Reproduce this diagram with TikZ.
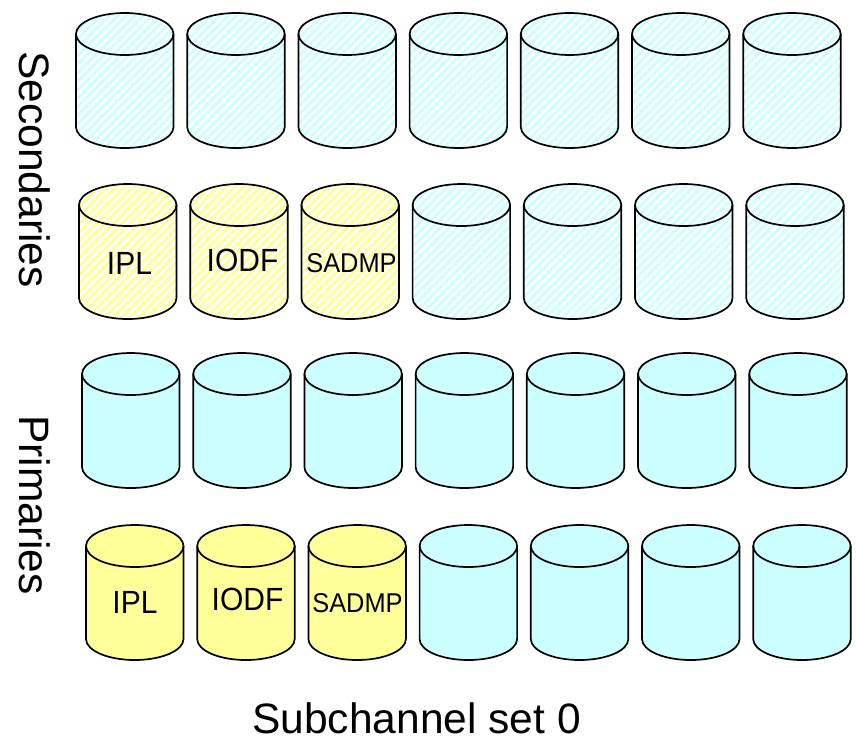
\documentclass[tikz,border=0pt]{standalone}
\usepackage{fontspec}
\setmainfont{Liberation Sans}
\usetikzlibrary{patterns.meta}

\definecolor{cyanfill}{RGB}{204,255,255}
\definecolor{yellowfill}{RGB}{255,255,153}

\tikzset{
  x=1pt, y=1pt,
  drumline/.style={draw=black, line width=1.7pt, line join=round},
  % a disk drum: origin at the top of the upper ellipse
  pics/drum/.style={code={
    \path[pic actions] (-48.75,-21) -- (-48.75,-114)
      arc[start angle=180, end angle=360, x radius=48.75, y radius=21]
      -- (48.75,-21)
      arc[start angle=0, end angle=180, x radius=48.75, y radius=21] -- cycle;
    \draw[drumline] (-48.75,-21)
      arc[start angle=180, end angle=360, x radius=48.75, y radius=21];
  }},
  solidcyan/.style={fill=cyanfill, drumline},
  solidyellow/.style={fill=yellowfill, drumline},
  hatchcyan/.style={pattern={Lines[angle=45, distance=6pt, line width=3pt]},
    pattern color=cyanfill, drumline},
  hatchyellow/.style={pattern={Lines[angle=45, distance=6pt, line width=3pt]},
    pattern color=yellowfill, drumline},
  biglabel/.style={font=\fontsize{42.5}{50}\selectfont, inner sep=0pt},
  drumlabel/.style={font=\fontsize{30}{36}\selectfont, inner sep=0pt,
    anchor=base, yscale=1.07, transform shape},
  smalldrumlabel/.style={font=\fontsize{25.4}{30}\selectfont, inner sep=0pt,
    anchor=base, yscale=1.07, transform shape},
}

\begin{document}
\begin{tikzpicture}
\useasboundingbox (0,0) rectangle (856,-753);

% secondaries, upper row
\foreach \i in {0,...,6}
  \pic[hatchcyan] at ({76+48.75+111.2*\i},-13) {drum};

% secondaries, lower row
\foreach \i in {0,1,2}
  \pic[hatchyellow] at ({79+48.75+111.2*\i},-184) {drum};
\foreach \i in {3,...,6}
  \pic[hatchcyan] at ({79+48.75+111.2*\i},-184) {drum};

% primaries, upper row
\foreach \i in {0,...,6}
  \pic[solidcyan] at ({82+48.75+111.2*\i},-353) {drum};

% primaries, lower row
\foreach \i in {0,1,2}
  \pic[solidyellow] at ({86+48.75+111.2*\i},-525) {drum};
\foreach \i in {3,...,6}
  \pic[solidcyan] at ({86+48.75+111.2*\i},-525) {drum};

% volume names
\node[drumlabel] (sipl) at (129.5,-274) {IPL};
\node[drumlabel] (siodf) at (242.5,-271) {IODF};
\node[smalldrumlabel] (ssadmp) at (351.5,-272) {SADMP};
\node[drumlabel] (pipl) at (135,-613) {IPL};
\node[drumlabel] (piodf) at (247.5,-610) {IODF};
\node[smalldrumlabel] (psadmp) at (357.5,-612) {SADMP};

% side and bottom captions
\node[biglabel, rotate=-90, anchor=base] (sec) at (19,-169.5) {Secondaries};
\node[biglabel, rotate=-90, anchor=base] (pri) at (19,-505) {Primaries};
\node[biglabel, anchor=base] (set) at (416.5,-733) {Subchannel set 0};
\end{tikzpicture}
\end{document}
